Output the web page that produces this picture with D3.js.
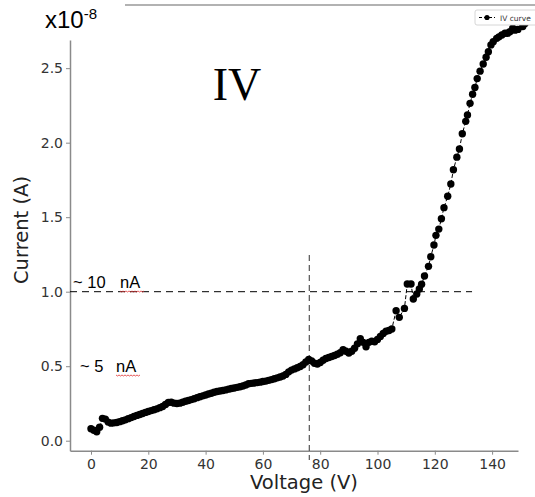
<!DOCTYPE html>
<html>
<head>
<meta charset="utf-8">
<script src="https://cdn.jsdelivr.net/npm/d3@7"></script>
<style>
  body { margin: 0; background: #fff; }
  svg { display: block; }
  .tick text { font-family: "DejaVu Sans", sans-serif; font-size: 14px; fill: #333; }
</style>
</head>
<body>
<svg id="chart" width="535" height="497"></svg>
<script>
// voltage (V) and current (x1e-8 A)
const voltage = [
  0, 1, 2, 3, 4, 5, 6, 7, 8, 9, 10, 11, 12, 13, 14, 15, 16, 17, 18, 19,
  20, 21, 22, 23, 24, 25, 26, 27, 28, 29, 30, 31, 32, 33, 34, 35, 36, 37, 38, 39,
  40, 41, 42, 43, 44, 45, 46, 47, 48, 49, 50, 51, 52, 53, 54, 55, 56, 57, 58, 59,
  60, 61, 62, 63, 64, 65, 66, 67, 68, 69, 70, 71, 72, 73, 74, 75, 76, 77, 78, 79,
  80, 81, 82, 83, 84, 85, 86, 87, 88, 89, 90, 91, 92, 93, 94, 95, 96, 97, 98, 99,
  100, 101, 102, 103, 104, 105,
  106.5, 107.6, 109.4, 110.4, 111.7, 112.5, 113.7, 114.6, 115.4, 116.4,
  117.8, 118.6, 119.7, 120.4, 121.4, 122.3, 123.2, 124.5, 125.6, 126.5,
  127.7, 128.6, 129.6, 130.8, 131.4, 132.3, 133.2, 134.0, 134.8, 135.8,
  136.9, 137.9, 138.7, 139.6, 140.4, 141.6, 142.4, 143.4, 144.5, 145.4,
  146.2, 147.2, 148.0, 149.0, 150.7, 151.5
];
const current = [
  0.08, 0.07, 0.06, 0.09, 0.15, 0.145, 0.125, 0.118, 0.12, 0.122,
  0.128, 0.134, 0.14, 0.148, 0.155, 0.162, 0.17, 0.176, 0.183, 0.19,
  0.196, 0.202, 0.208, 0.214, 0.222, 0.23, 0.243, 0.256, 0.258, 0.252,
  0.25, 0.252, 0.258, 0.265, 0.27, 0.276, 0.282, 0.289, 0.295, 0.301,
  0.307, 0.313, 0.319, 0.325, 0.33, 0.334, 0.337, 0.341, 0.346, 0.35,
  0.354, 0.358, 0.362, 0.367, 0.374, 0.382, 0.385, 0.387, 0.39, 0.393,
  0.397, 0.40, 0.405, 0.41, 0.416, 0.422, 0.428, 0.434, 0.445, 0.462,
  0.474, 0.482, 0.49, 0.498, 0.51, 0.528, 0.546, 0.535, 0.52, 0.515,
  0.525, 0.54, 0.552, 0.558, 0.565, 0.572, 0.58, 0.59, 0.61, 0.60,
  0.588, 0.60, 0.62, 0.65, 0.685, 0.66, 0.63, 0.66, 0.668, 0.664,
  0.68, 0.70, 0.72, 0.735, 0.74, 0.75,
  0.872, 0.828, 0.888, 1.052, 1.052, 0.951, 0.985, 1.018, 1.05, 1.105,
  1.17, 1.235, 1.313, 1.378, 1.42, 1.489, 1.564, 1.64, 1.723, 1.818,
  1.903, 1.958, 2.06, 2.143, 2.186, 2.264, 2.325, 2.37, 2.43, 2.48,
  2.528, 2.573, 2.61, 2.656, 2.678, 2.70, 2.71, 2.723, 2.734, 2.734,
  2.745, 2.768, 2.755, 2.76, 2.78, 2.80
];
const xTicks = [0, 20, 40, 60, 80, 100, 120, 140];
const yTicks = [0, 0.5, 1.0, 1.5, 2.0, 2.5];
const vMarker = 76.2;   // vertical dashed line
const iMarker = 1.0;    // horizontal dashed line

const svg = d3.select('#chart');
const axisColor = '#8a8a8a';

const x = d3.scaleLinear().domain([-7.33, 149.04]).range([70, 518]);
const y = d3.scaleLinear().domain([-0.067, 2.689]).range([450.7, 40]);

// top border left over from the screenshot
svg.append('line')
  .attr('x1', 125).attr('x2', 535).attr('y1', 5).attr('y2', 5)
  .attr('stroke', '#999').attr('stroke-width', 1.5);

const gx = svg.append('g')
  .attr('transform', `translate(0,${y.range()[0]})`)
  .call(d3.axisBottom(x).tickValues(xTicks).tickSize(4).tickSizeOuter(0).tickPadding(4));
const gy = svg.append('g')
  .attr('transform', `translate(${x.range()[0]},0)`)
  .call(d3.axisLeft(y).tickValues(yTicks).tickFormat(d3.format('.1f')).tickSize(4).tickSizeOuter(0).tickPadding(3));
[gx, gy].forEach(g => {
  g.select('.domain').attr('stroke', axisColor).attr('stroke-width', 1.5);
  g.selectAll('.tick line').attr('stroke', axisColor);
});

// reference lines
svg.append('line')
  .attr('x1', x.range()[0]).attr('x2', x(133))
  .attr('y1', y(iMarker)).attr('y2', y(iMarker))
  .attr('stroke', '#000').attr('stroke-width', 1).attr('stroke-dasharray', '7,5');
svg.append('line')
  .attr('x1', x(vMarker)).attr('x2', x(vMarker))
  .attr('y1', 255).attr('y2', 460)
  .attr('stroke', '#555').attr('stroke-width', 1.2).attr('stroke-dasharray', '6,4');

// data
const pts = voltage.map((v, i) => [v, current[i]]);
svg.append('path')
  .datum(pts)
  .attr('fill', 'none').attr('stroke', '#000').attr('stroke-width', 1)
  .attr('stroke-dasharray', '4,2')
  .attr('d', d3.line().x(d => x(d[0])).y(d => y(d[1])));
svg.append('g').selectAll('circle')
  .data(pts)
  .join('circle')
  .attr('cx', d => x(d[0])).attr('cy', d => y(d[1]))
  .attr('r', 3.7).attr('fill', '#000');

// axis titles
svg.append('text')
  .attr('x', 304).attr('y', 489).attr('text-anchor', 'middle')
  .attr('font-family', '"DejaVu Sans", sans-serif').attr('font-size', 19.5).attr('fill', '#222')
  .text('Voltage (V)');
svg.append('text')
  .attr('transform', 'translate(28,230) rotate(-90)').attr('text-anchor', 'middle')
  .attr('font-family', '"DejaVu Sans", sans-serif').attr('font-size', 19.5).attr('fill', '#222')
  .text('Current (A)');

// scale factor
const sf = svg.append('text')
  .attr('x', 45).attr('y', 28)
  .attr('font-family', '"Liberation Sans", Arial, sans-serif').attr('font-size', 24).attr('fill', '#000');
sf.append('tspan').text('x10');
sf.append('tspan').attr('dy', -9).attr('font-size', 15).text('-8');

// big title
svg.append('text')
  .attr('x', 237).attr('y', 100).attr('text-anchor', 'middle')
  .attr('font-family', '"Liberation Serif", "Times New Roman", serif').attr('font-size', 46).attr('fill', '#000')
  .text('IV');

// annotations with spell-check squiggle
function note(x0, base, label, ux0, ux1) {
  const t = svg.append('text')
    .attr('y', base)
    .attr('font-family', '"Liberation Sans", Arial, sans-serif').attr('font-size', 16.5).attr('fill', '#000');
  t.append('tspan').attr('x', x0).text(label);
  t.append('tspan').attr('x', ux0).text('nA');
  const sq = [];
  for (let px = ux0; px <= ux1; px += 1.5) sq.push([px, base + 3 + ((Math.round((px - ux0) / 1.5) % 2) ? 1 : 0)]);
  svg.append('path')
    .attr('d', d3.line()(sq))
    .attr('fill', 'none').attr('stroke', '#e03030').attr('stroke-width', 0.8);
}
note(73, 288, '~ 10', 120, 144);
note(80, 372, '~ 5', 116, 140);

// legend (box runs off the right edge)
const lg = svg.append('g');
lg.append('rect')
  .attr('x', 475).attr('y', 10).attr('width', 70).attr('height', 15).attr('rx', 2)
  .attr('fill', '#fff').attr('stroke', '#ccc').attr('stroke-width', 0.8);
lg.append('line')
  .attr('x1', 479).attr('x2', 495).attr('y1', 17.5).attr('y2', 17.5)
  .attr('stroke', '#000').attr('stroke-width', 1).attr('stroke-dasharray', '3,2');
lg.append('circle').attr('cx', 487).attr('cy', 17.5).attr('r', 2.6).attr('fill', '#000');
lg.append('text')
  .attr('x', 500).attr('y', 20.5)
  .attr('font-family', '"DejaVu Sans", sans-serif').attr('font-size', 7.5).attr('fill', '#333')
  .text('IV curve');
</script>
</body>
</html>
